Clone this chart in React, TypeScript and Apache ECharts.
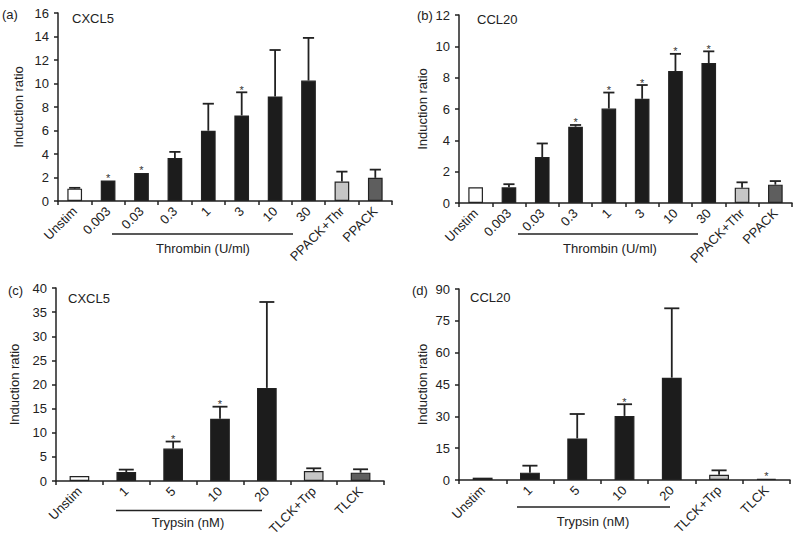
import React, { useEffect, useRef } from "react";
import * as echarts from "echarts";

// ---------- data ----------
const thrombinCats = ["Unstim", "0.003", "0.03", "0.3", "1", "3", "10", "30", "PPACK+Thr", "PPACK"];
const trypsinCats = ["Unstim", "1", "5", "10", "20", "TLCK+Trp", "TLCK"];

const aValues = [1.05, 1.75, 2.38, 3.65, 5.98, 7.28, 8.9, 10.25, 1.65, 1.97];
const aUpper = [1.12, 1.78, 2.42, 4.18, 8.28, 9.25, 12.85, 13.88, 2.5, 2.67];
const aStars = [0, 1, 1, 0, 0, 1, 0, 0, 0, 0];

const bValues = [1.0, 1.0, 2.93, 4.87, 6.03, 6.65, 8.42, 8.93, 0.98, 1.17];
const bUpper = [1.03, 1.2, 3.8, 4.98, 7.05, 7.53, 9.52, 9.68, 1.32, 1.4];
const bStars = [0, 0, 0, 1, 1, 1, 1, 1, 0, 0];

const cValues = [1.04, 1.87, 6.72, 12.9, 19.3, 2.08, 1.73];
const cUpper = [1.06, 2.36, 8.18, 15.4, 37.1, 2.63, 2.43];
const cStars = [0, 0, 1, 1, 0, 0, 0];

const dValues = [1.1, 3.46, 19.6, 30.2, 48.2, 2.5, 0.5];
const dUpper = [1.1, 6.75, 31.1, 35.7, 80.9, 4.55, 0.5];
const dStars = [0, 0, 0, 1, 0, 0, 1];

const yMax = [16, 12, 40, 90];
const yStep = [2, 2, 5, 15];
const panelLetters = ["(a)", "(b)", "(c)", "(d)"];
const panelTitles = ["CXCL5", "CCL20", "CXCL5", "CCL20"];
const groupNames = ["Thrombin (U/ml)", "Thrombin (U/ml)", "Trypsin (nM)", "Trypsin (nM)"];

const WHITE = "#ffffff";
const DARK = "#1c1c1c";
const LIGHT = "#c6c6c6";
const MID = "#5e5e5e";
const thrombinColors = [WHITE, DARK, DARK, DARK, DARK, DARK, DARK, DARK, LIGHT, MID];
const trypsinColors = [WHITE, DARK, DARK, DARK, DARK, LIGHT, MID];

const FONT = "'Liberation Sans', Arial, Helvetica, sans-serif";
const INK = "#222222";

// ---------- layout ----------
const grids = [
  { left: 58, top: 13, width: 334, height: 188 },
  { left: 459, top: 15, width: 333, height: 188 },
  { left: 56, top: 288, width: 328, height: 193 },
  { left: 459, top: 289, width: 331, height: 191 },
];
const nameGaps = [33, 30, 35, 30];
const letterPos = [
  [2, 14],
  [417, 15],
  [8, 290],
  [412, 290],
];
const titlePos = [
  [72, 18],
  [477, 19],
  [68, 298],
  [470, 297],
];
const underline = [
  [112, 293, 234, 203, 248],
  [518, 698, 234, 610, 248],
  [116, 262, 510.5, 188, 522],
  [517, 670, 507, 593, 521],
];

export default function App() {
  const ref = useRef<HTMLDivElement>(null);

  useEffect(() => {
    if (!ref.current) return;
    const chart = echarts.init(ref.current, undefined, { renderer: "svg" });

    const panels = [
      { cats: thrombinCats, vals: aValues, up: aUpper, stars: aStars, colors: thrombinColors },
      { cats: thrombinCats, vals: bValues, up: bUpper, stars: bStars, colors: thrombinColors },
      { cats: trypsinCats, vals: cValues, up: cUpper, stars: cStars, colors: trypsinColors },
      { cats: trypsinCats, vals: dValues, up: dUpper, stars: dStars, colors: trypsinColors },
    ];

    const axisLine = { show: true, lineStyle: { color: INK, width: 1.5 } };
    const axisTick = { show: true, length: 4, lineStyle: { color: INK, width: 1.5 } };

    const xAxis = panels.map((p, i) => ({
      type: "category",
      gridIndex: i,
      data: p.cats,
      boundaryGap: true,
      axisLine,
      axisTick: { ...axisTick, interval: 0, alignWithLabel: false },
      axisLabel: {
        interval: 0,
        rotate: 45,
        fontSize: 13,
        fontFamily: FONT,
        color: INK,
        margin: 8,
      },
      splitLine: { show: false },
    }));

    const yAxis = panels.map((p, i) => ({
      type: "value",
      gridIndex: i,
      min: 0,
      max: yMax[i],
      interval: yStep[i],
      name: "Induction ratio",
      nameLocation: "middle",
      nameGap: nameGaps[i],
      nameTextStyle: { fontSize: 13, fontFamily: FONT, color: INK },
      axisLine,
      axisTick,
      axisLabel: { fontSize: 13, fontFamily: FONT, color: INK, margin: 9 },
      splitLine: { show: false },
    }));

    const series: any[] = [];
    panels.forEach((p, i) => {
      series.push({
        type: "bar",
        xAxisIndex: i,
        yAxisIndex: i,
        barWidth: i < 2 ? "44%" : "42%",
        data: p.vals.map((v, k) => ({
          value: v,
          itemStyle: { color: p.colors[k], borderColor: INK, borderWidth: 1.2 },
        })),
        z: 2,
      });
      series.push({
        type: "custom",
        xAxisIndex: i,
        yAxisIndex: i,
        z: 3,
        itemStyle: { color: "#333333" },
        encode: { x: 0, y: 2 },
        data: p.up.map((u, k) => [k, p.vals[k], u, p.stars[k]]),
        renderItem: (params: any, api: any) => {
          const idx = api.value(0);
          const top = api.coord([idx, api.value(1)]);
          const cap = api.coord([idx, api.value(2)]);
          const band = api.size([1, 0])[0];
          const half = band * (i < 2 ? 0.44 : 0.42) * 0.38;
          const children: any[] = [];
          if (top[1] - cap[1] > 0.8) {
            children.push({
              type: "line",
              shape: { x1: top[0], y1: top[1], x2: cap[0], y2: cap[1] },
              style: { stroke: INK, lineWidth: 1.8 },
            });
            children.push({
              type: "line",
              shape: { x1: cap[0] - half, y1: cap[1], x2: cap[0] + half, y2: cap[1] },
              style: { stroke: INK, lineWidth: 1.8 },
            });
          }
          if (api.value(3)) {
            children.push({
              type: "text",
              x: cap[0],
              y: cap[1] + 3,
              style: {
                text: "*",
                fontSize: 11,
                fontFamily: FONT,
                fill: "#333333",
                align: "center",
                verticalAlign: "bottom",
              },
            });
          }
          return { type: "group", children };
        },
      });
    });

    const graphic: any[] = [];
    for (let i = 0; i < 4; i++) {
      graphic.push({
        type: "text",
        x: letterPos[i][0],
        y: letterPos[i][1],
        style: { text: panelLetters[i], fontSize: 13, fontFamily: FONT, fill: INK, verticalAlign: "middle" },
      });
      graphic.push({
        type: "text",
        x: titlePos[i][0],
        y: titlePos[i][1],
        style: { text: panelTitles[i], fontSize: 13, fontFamily: FONT, fill: INK, verticalAlign: "middle" },
      });
      const u = underline[i];
      graphic.push({
        type: "line",
        shape: { x1: u[0], y1: u[2], x2: u[1], y2: u[2] },
        style: { stroke: INK, lineWidth: 1.5 },
      });
      graphic.push({
        type: "text",
        x: u[3],
        y: u[4],
        style: {
          text: groupNames[i],
          fontSize: 13,
          fontFamily: FONT,
          fill: INK,
          align: "center",
          verticalAlign: "middle",
        },
      });
    }

    chart.setOption({
      animation: false,
      backgroundColor: "#ffffff",
      color: ["#333333"],
      textStyle: { fontFamily: FONT },
      grid: grids.map((g) => ({ ...g, containLabel: false })),
      xAxis,
      yAxis,
      series,
      graphic,
    });

    return () => chart.dispose();
  }, []);

  return (
    <div
      ref={ref}
      style={{ position: "absolute", left: 0, top: 0, width: 800, height: 541 }}
    />
  );
}
